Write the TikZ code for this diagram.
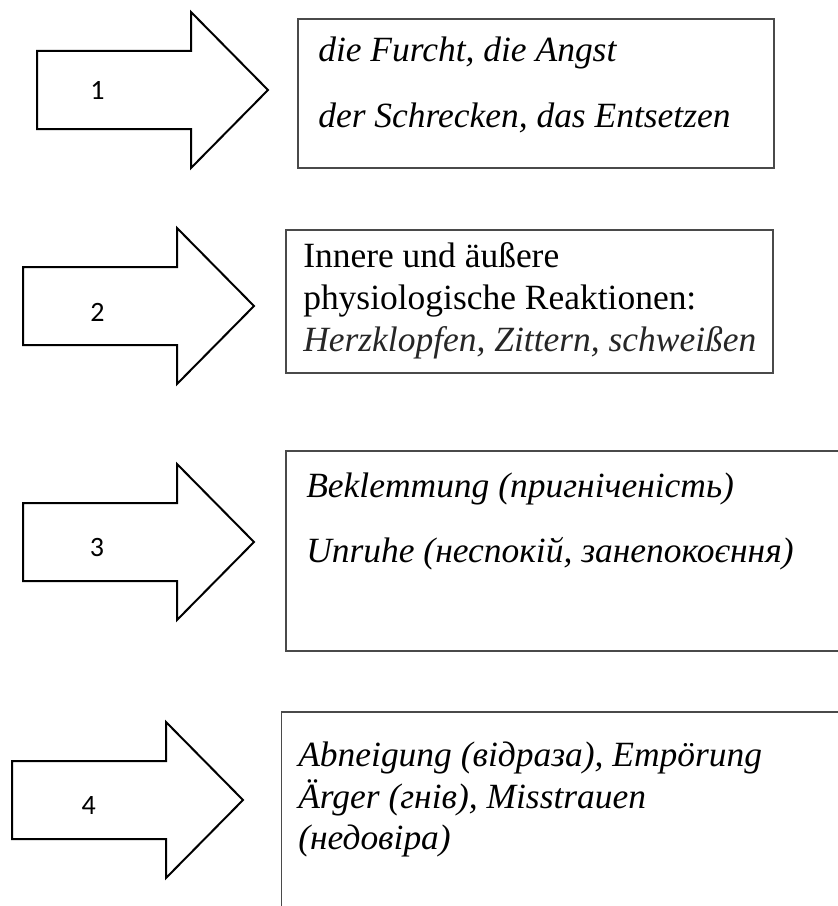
\documentclass[tikz,border=0pt]{standalone}
\usepackage{fontspec}
\setmainfont{Liberation Serif}
\newfontfamily\numberfont{Carlito}

\begin{document}
\begin{tikzpicture}[x=0.75pt, y=-0.75pt,
    arrowStyle/.style={draw=borderColour, line width=1.5pt, line join=miter},
    boxStyle/.style={draw=boxColour, line width=1.1pt},
    numberLabel/.style={inner sep=0pt, font=\numberfont\fontsize{21}{21}\selectfont},
    boxText/.style={anchor=base west, inner sep=0pt, font=\fontsize{26.6}{30}\selectfont\itshape},
    plainText/.style={boxText, font=\fontsize{26.6}{30}\selectfont\upshape}]

    \definecolor{borderColour}{HTML}{000000}
    \definecolor{boxColour}{HTML}{4A4A4A}
    \definecolor{greyText}{HTML}{262626}

    % Fix the page size
    \useasboundingbox (0,0) rectangle (838,906);
    \clip (0,0) rectangle (838,906);

    % Draw the block arrows with their numbers
    \foreach \n/\ax/\ay/\lx/\ly in {1/37/90/97.5/90, 2/23/306/97.5/312, 3/23/542/97/548, 4/12/800/88.7/806} {
        \draw[arrowStyle] (\ax,\ay-39) -- (\ax+154,\ay-39) -- (\ax+154,\ay-78) -- (\ax+231,\ay)
            -- (\ax+154,\ay+78) -- (\ax+154,\ay+39) -- (\ax,\ay+39) -- cycle;
        \node[numberLabel] (num\n) at (\lx,\ly) {\n};
    }

    % Draw the boxes
    \draw[boxStyle] (298,19) rectangle (774,168);
    \draw[boxStyle] (286,230) rectangle (773,373);
    \draw[boxStyle] (286,451) rectangle (860,651);
    \draw[boxStyle] (281.7,712) rectangle (860,930);

    % Box 1
    \node[boxText] (furcht) at (318,61) {die Furcht, die Angst};
    \node[boxText] (schrecken) at (318,127) {der Schrecken, das Entsetzen};

    % Box 2
    \node[plainText] (innere) at (303,267) {Innere und äußere};
    \node[plainText] (physio) at (303,309) {physiologische Reaktionen:};
    \node[boxText, text=greyText] (herz) at (303,351) {Herzklopfen, Zittern, schweißen};

    % Box 3
    \node[boxText] (beklemmung) at (306,497) {Beklemmung (пригніченість)};
    \node[boxText] (unruhe) at (306,562) {Unruhe (неспокій, занепокоєння)};

    % Box 4
    \node[boxText] (abneigung) at (298,766) {Abneigung (відраза), Empörung};
    \node[boxText] (aerger) at (298,808) {Ärger (гнів), Misstrauen};
    \node[boxText] (misstrauen) at (298,849) {(недовіра)};
\end{tikzpicture}
\end{document}
